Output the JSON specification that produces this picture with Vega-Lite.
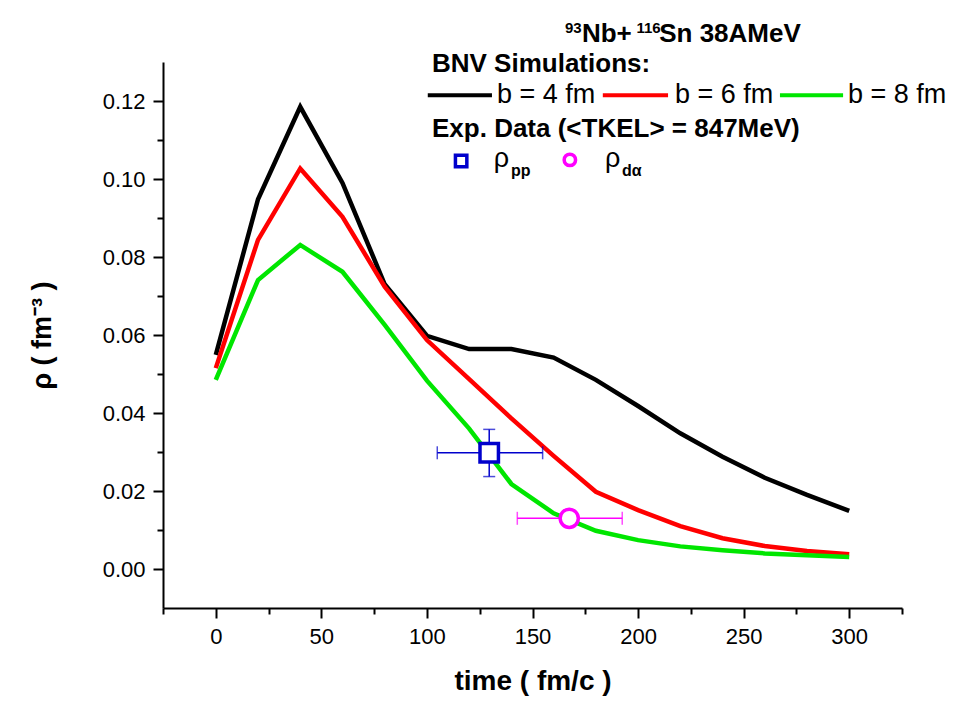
{
  "$schema": "https://vega.github.io/schema/vega-lite/v6.json",
  "autosize": "none",
  "width": 739,
  "height": 546,
  "padding": {"left": 163, "top": 62, "right": 53, "bottom": 95},
  "background": "white",
  "config": {
    "view": {"stroke": null},
    "font": "Liberation Sans",
    "axis": {"labelFont": "Liberation Sans", "titleFont": "Liberation Sans", "labelColor": "black", "titleColor": "black", "domainColor": "black", "tickColor": "black", "domainWidth": 2, "tickWidth": 2, "grid": false}
  },
  "datasets": {
    "sim": [
      {"t": 0, "rho": 0.0549, "b": "b = 4 fm"},
      {"t": 20, "rho": 0.0948, "b": "b = 4 fm"},
      {"t": 40, "rho": 0.1185, "b": "b = 4 fm"},
      {"t": 60, "rho": 0.0990, "b": "b = 4 fm"},
      {"t": 80, "rho": 0.0730, "b": "b = 4 fm"},
      {"t": 100, "rho": 0.0598, "b": "b = 4 fm"},
      {"t": 120, "rho": 0.0564, "b": "b = 4 fm"},
      {"t": 140, "rho": 0.0564, "b": "b = 4 fm"},
      {"t": 160, "rho": 0.0542, "b": "b = 4 fm"},
      {"t": 180, "rho": 0.0485, "b": "b = 4 fm"},
      {"t": 200, "rho": 0.0418, "b": "b = 4 fm"},
      {"t": 220, "rho": 0.0348, "b": "b = 4 fm"},
      {"t": 240, "rho": 0.0288, "b": "b = 4 fm"},
      {"t": 260, "rho": 0.0234, "b": "b = 4 fm"},
      {"t": 280, "rho": 0.0190, "b": "b = 4 fm"},
      {"t": 300, "rho": 0.0149, "b": "b = 4 fm"},
      {"t": 0, "rho": 0.0515, "b": "b = 6 fm"},
      {"t": 20, "rho": 0.0844, "b": "b = 6 fm"},
      {"t": 40, "rho": 0.1027, "b": "b = 6 fm"},
      {"t": 60, "rho": 0.0903, "b": "b = 6 fm"},
      {"t": 80, "rho": 0.0724, "b": "b = 6 fm"},
      {"t": 100, "rho": 0.0587, "b": "b = 6 fm"},
      {"t": 120, "rho": 0.0487, "b": "b = 6 fm"},
      {"t": 140, "rho": 0.0386, "b": "b = 6 fm"},
      {"t": 160, "rho": 0.0290, "b": "b = 6 fm"},
      {"t": 180, "rho": 0.0198, "b": "b = 6 fm"},
      {"t": 200, "rho": 0.0151, "b": "b = 6 fm"},
      {"t": 220, "rho": 0.0110, "b": "b = 6 fm"},
      {"t": 240, "rho": 0.0079, "b": "b = 6 fm"},
      {"t": 260, "rho": 0.0059, "b": "b = 6 fm"},
      {"t": 280, "rho": 0.0046, "b": "b = 6 fm"},
      {"t": 300, "rho": 0.0038, "b": "b = 6 fm"},
      {"t": 0, "rho": 0.0485, "b": "b = 8 fm"},
      {"t": 20, "rho": 0.0741, "b": "b = 8 fm"},
      {"t": 40, "rho": 0.0831, "b": "b = 8 fm"},
      {"t": 60, "rho": 0.0762, "b": "b = 8 fm"},
      {"t": 80, "rho": 0.0626, "b": "b = 8 fm"},
      {"t": 100, "rho": 0.0483, "b": "b = 8 fm"},
      {"t": 120, "rho": 0.0360, "b": "b = 8 fm"},
      {"t": 140, "rho": 0.0218, "b": "b = 8 fm"},
      {"t": 160, "rho": 0.0143, "b": "b = 8 fm"},
      {"t": 180, "rho": 0.0098, "b": "b = 8 fm"},
      {"t": 200, "rho": 0.0074, "b": "b = 8 fm"},
      {"t": 220, "rho": 0.0058, "b": "b = 8 fm"},
      {"t": 240, "rho": 0.0048, "b": "b = 8 fm"},
      {"t": 260, "rho": 0.0040, "b": "b = 8 fm"},
      {"t": 280, "rho": 0.0035, "b": "b = 8 fm"},
      {"t": 300, "rho": 0.0031, "b": "b = 8 fm"}
    ],
    "exp": [
      {"name": "ρpp", "t": 129.5, "rho": 0.0298, "tlo": 104.9, "thi": 154.8, "rlo": 0.0237, "rhi": 0.0358},
      {"name": "ρdα", "t": 167.4, "rho": 0.0130, "tlo": 142.8, "thi": 192.5, "rlo": 0.0115, "rhi": 0.0147}
    ],
    "legLines": [
      {"b": "b = 4 fm", "x1": 100.4, "x2": 130.8, "y": 0.1215},
      {"b": "b = 6 fm", "x1": 183.3, "x2": 214.2, "y": 0.1215},
      {"b": "b = 8 fm", "x1": 267.2, "x2": 297.1, "y": 0.1215}
    ],
    "legSym": [
      {"name": "ρpp", "x": 116.2, "y": 0.1046},
      {"name": "ρdα", "x": 167.7, "y": 0.1049}
    ],
    "boldText": [
      {"text": "Nb+", "x": 173.4, "y": 0.1351},
      {"text": "Sn 38AMeV", "x": 210.0, "y": 0.1351},
      {"text": "BNV Simulations:", "x": 102.4, "y": 0.1274},
      {"text": "Exp. Data (<TKEL> = 847MeV)", "x": 102.4, "y": 0.1108}
    ],
    "supText": [
      {"text": "93", "x": 165.4, "y": 0.1374},
      {"text": "116", "x": 199.2, "y": 0.1374}
    ],
    "regText": [
      {"text": "b = 4 fm", "x": 133.2, "y": 0.1195},
      {"text": "b = 6 fm", "x": 217.5, "y": 0.1195},
      {"text": "b = 8 fm", "x": 299.4, "y": 0.1195},
      {"text": "ρ", "x": 131.7, "y": 0.1030},
      {"text": "ρ", "x": 184.3, "y": 0.1030}
    ],
    "subText": [
      {"text": "pp", "x": 139.8, "y": 0.1008},
      {"text": "dα", "x": 192.4, "y": 0.1008}
    ]
  },
  "layer": [
    {
      "data": {"name": "sim"},
      "mark": {"type": "line", "strokeWidth": 4.5},
      "encoding": {
        "x": {
          "field": "t", "type": "quantitative", "title": "time ( fm/c )",
          "scale": {"domain": [-25, 325], "nice": false, "zero": false},
          "axis": {
            "values": [-25, 0, 25, 50, 75, 100, 125, 150, 175, 200, 225, 250, 275, 300, 325],
            "format": "d",
            "labelExpr": "datum.value % 50 === 0 ? datum.label : ''",
            "tickSize": {"condition": {"test": "datum.value % 50 === 0", "value": 10}, "value": 6},
            "labelFontSize": 22, "labelPadding": 8,
            "titleFontSize": 28, "titleFontWeight": "bold", "titlePadding": 20
          }
        },
        "y": {
          "field": "rho", "type": "quantitative", "title": "ρ ( fm⁻³ )",
          "scale": {"domain": [-0.01, 0.13], "nice": false, "zero": false},
          "axis": {
            "values": [0, 0.01, 0.02, 0.03, 0.04, 0.05, 0.06, 0.07, 0.08, 0.09, 0.10, 0.11, 0.12],
            "format": ".2f",
            "labelExpr": "round(datum.value * 100) % 2 === 0 ? datum.label : ''",
            "tickSize": {"condition": {"test": "round(datum.value * 100) % 2 === 0", "value": 10}, "value": 6},
            "labelFontSize": 22, "labelPadding": 8,
            "titleFontSize": 27, "titleFontWeight": "bold", "titlePadding": 46
          }
        },
        "color": {
          "field": "b", "type": "nominal",
          "scale": {"domain": ["b = 4 fm", "b = 6 fm", "b = 8 fm", "ρpp", "ρdα"], "range": ["#000000", "#ff0000", "#00e600", "#0000cc", "#ff00ff"]},
          "legend": null
        }
      }
    },
    {
      "data": {"name": "exp"},
      "mark": {"type": "errorbar", "ticks": true, "thickness": 1.5, "size": 13},
      "encoding": {
        "x": {"field": "tlo", "type": "quantitative", "title": "time ( fm/c )"},
        "x2": {"field": "thi"},
        "y": {"field": "rho", "type": "quantitative", "title": "ρ ( fm⁻³ )"},
        "color": {"field": "name", "type": "nominal", "legend": null}
      }
    },
    {
      "data": {"name": "exp"},
      "mark": {"type": "errorbar", "ticks": true, "thickness": 1.5, "size": 12},
      "encoding": {
        "y": {"field": "rlo", "type": "quantitative", "title": "ρ ( fm⁻³ )"},
        "y2": {"field": "rhi"},
        "x": {"field": "t", "type": "quantitative", "title": "time ( fm/c )"},
        "color": {"field": "name", "type": "nominal", "legend": null}
      }
    },
    {
      "data": {"name": "exp"},
      "mark": {"type": "point", "filled": false, "fill": "white", "fillOpacity": 1, "strokeWidth": 3.5, "opacity": 1},
      "encoding": {
        "x": {"field": "t", "type": "quantitative", "title": "time ( fm/c )"},
        "y": {"field": "rho", "type": "quantitative", "title": "ρ ( fm⁻³ )"},
        "shape": {"field": "name", "type": "nominal", "scale": {"domain": ["ρpp", "ρdα"], "range": ["square", "circle"]}, "legend": null},
        "size": {"field": "name", "type": "nominal", "scale": {"domain": ["ρpp", "ρdα"], "range": [340, 330]}, "legend": null},
        "color": {"field": "name", "type": "nominal", "legend": null}
      }
    },
    {
      "data": {"name": "legLines"},
      "mark": {"type": "rule", "strokeWidth": 4},
      "encoding": {
        "x": {"field": "x1", "type": "quantitative", "title": "time ( fm/c )"},
        "x2": {"field": "x2"},
        "y": {"field": "y", "type": "quantitative", "title": "ρ ( fm⁻³ )"},
        "color": {"field": "b", "type": "nominal", "legend": null}
      }
    },
    {
      "data": {"name": "legSym"},
      "mark": {"type": "point", "filled": false, "strokeWidth": 3.5, "opacity": 1},
      "encoding": {
        "x": {"field": "x", "type": "quantitative", "title": "time ( fm/c )"},
        "y": {"field": "y", "type": "quantitative", "title": "ρ ( fm⁻³ )"},
        "shape": {"field": "name", "type": "nominal", "legend": null},
        "size": {"value": 130},
        "color": {"field": "name", "type": "nominal", "legend": null}
      }
    },
    {
      "data": {"name": "boldText"},
      "mark": {"type": "text", "align": "left", "baseline": "alphabetic", "fontSize": 26, "fontWeight": "bold", "font": "Liberation Sans", "color": "black"},
      "encoding": {
        "x": {"field": "x", "type": "quantitative", "title": "time ( fm/c )"},
        "y": {"field": "y", "type": "quantitative", "title": "ρ ( fm⁻³ )"},
        "text": {"field": "text", "type": "nominal"}
      }
    },
    {
      "data": {"name": "supText"},
      "mark": {"type": "text", "align": "left", "baseline": "alphabetic", "fontSize": 15, "fontWeight": "bold", "font": "Liberation Sans", "color": "black"},
      "encoding": {
        "x": {"field": "x", "type": "quantitative", "title": "time ( fm/c )"},
        "y": {"field": "y", "type": "quantitative", "title": "ρ ( fm⁻³ )"},
        "text": {"field": "text", "type": "nominal"}
      }
    },
    {
      "data": {"name": "regText"},
      "mark": {"type": "text", "align": "left", "baseline": "alphabetic", "fontSize": 27, "font": "Liberation Sans", "color": "black"},
      "encoding": {
        "x": {"field": "x", "type": "quantitative", "title": "time ( fm/c )"},
        "y": {"field": "y", "type": "quantitative", "title": "ρ ( fm⁻³ )"},
        "text": {"field": "text", "type": "nominal"}
      }
    },
    {
      "data": {"name": "subText"},
      "mark": {"type": "text", "align": "left", "baseline": "alphabetic", "fontSize": 16, "fontWeight": "bold", "font": "Liberation Sans", "color": "black"},
      "encoding": {
        "x": {"field": "x", "type": "quantitative", "title": "time ( fm/c )"},
        "y": {"field": "y", "type": "quantitative", "title": "ρ ( fm⁻³ )"},
        "text": {"field": "text", "type": "nominal"}
      }
    }
  ]
}
